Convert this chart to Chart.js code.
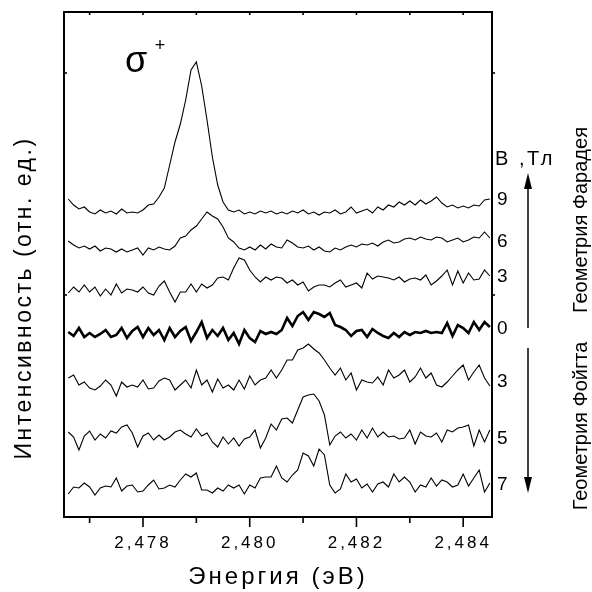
<!DOCTYPE html>
<html><head><meta charset="utf-8">
<script src="https://cdn.jsdelivr.net/npm/chart.js@4/dist/chart.umd.min.js"></script>
<style>html,body{margin:0;padding:0;background:#fff;}canvas{display:block}</style>
</head><body>
<canvas id="c" width="592" height="592"></canvas>
<script>
// Photon energy, eV
const energy = [
 2.4766,2.4767,2.4768,2.4769,2.4770,2.4771,2.4772,2.4773,2.4774,2.4775,
 2.4776,2.4777,2.4778,2.4779,2.4780,2.4781,2.4782,2.4783,2.4784,2.4785,
 2.4786,2.4787,2.4788,2.4789,2.4790,2.4791,2.4792,2.4793,2.4794,2.4795,
 2.4796,2.4797,2.4798,2.4799,2.4800,2.4801,2.4802,2.4803,2.4804,2.4805,
 2.4806,2.4807,2.4808,2.4809,2.4810,2.4811,2.4812,2.4813,2.4814,2.4815,
 2.4816,2.4817,2.4818,2.4819,2.4820,2.4821,2.4822,2.4823,2.4824,2.4825,
 2.4826,2.4827,2.4828,2.4829,2.4830,2.4831,2.4832,2.4833,2.4834,2.4835,
 2.4836,2.4837,2.4838,2.4839,2.4840,2.4841,2.4842,2.4843,2.4844,2.4845];

// Intensity (arb. units, vertically offset), one array per field
const faraday9 = [
 318,312,308,310,305,303,307,304,306,303,
 308,304,305,304,307,312,313,320,329,352,
 375,393,417,447,455,431,397,360,332,315,
 307,305,307,303,305,303,306,304,306,303,
 305,303,306,304,307,303,305,302,305,304,
 307,303,305,310,304,306,308,304,310,307,
 312,310,315,312,316,312,317,313,316,320,
 314,310,312,309,311,309,312,311,317,318];
const faraday6 = [
 276,272,269,271,268,271,266,269,268,265,
 268,265,267,269,262,269,267,270,268,267,
 271,279,281,287,291,298,305,301,298,290,
 279,275,269,267,270,267,272,268,273,270,
 269,277,274,270,269,271,267,270,266,265,
 269,267,270,272,270,273,272,274,271,275,
 277,274,275,278,279,277,280,278,277,280,
 279,275,277,279,275,277,280,279,285,279];
const faraday3 = [
 224,230,225,232,225,230,221,228,222,233,
 224,228,227,225,230,224,222,231,236,225,
 215,225,225,233,225,233,229,232,239,240,
 237,249,259,257,247,240,235,240,237,240,
 239,234,237,232,235,226,230,232,232,230,
 234,237,230,232,234,229,244,238,241,240,
 239,237,240,235,238,239,237,242,232,236,
 241,247,232,246,234,244,237,238,247,241];
const zeroField = [
 185,181,189,180,184,180,183,187,180,182,
 189,179,186,190,180,189,182,187,177,189,
 180,186,190,176,185,195,179,187,181,189,
 177,184,173,187,179,175,186,183,185,183,
 187,199,191,201,205,197,205,203,200,204,
 192,190,187,181,186,187,180,188,184,181,
 179,184,180,185,182,185,184,186,184,185,
 184,194,181,192,189,184,195,187,195,190];
const voigt3 = [
 139,142,132,135,129,127,131,137,132,121,
 135,130,132,130,137,128,129,136,139,137,
 127,132,137,129,147,132,137,125,138,129,
 132,127,137,128,141,132,137,139,147,139,
 147,157,157,167,169,173,168,164,157,149,
 142,149,137,144,127,137,135,134,140,132,
 147,139,142,147,135,140,149,139,144,132,
 130,135,141,147,152,137,145,152,139,131];
const voigt5 = [
 85,80,67,81,86,77,83,79,86,84,
 90,92,84,70,81,84,77,82,77,80,
 85,87,83,80,88,81,84,75,70,80,
 73,79,71,78,80,87,69,79,93,87,
 98,99,94,107,120,122,123,116,102,72,
 81,85,79,83,77,87,79,89,80,85,
 80,81,78,79,87,73,85,81,80,84,
 75,87,85,89,90,92,71,87,75,87];
const voigt7 = [
 23,30,29,34,30,22,29,31,30,39,
 26,31,32,25,26,32,37,28,29,32,
 30,37,43,40,44,27,27,24,29,26,
 32,29,32,23,32,29,39,40,40,51,
 39,35,42,47,64,61,51,68,62,32,
 24,28,43,35,38,29,33,25,33,35,
 30,43,35,40,35,25,32,30,39,31,
 37,35,30,32,43,31,39,47,25,34];

const fieldLabels = ['9','6','3','0','3','5','7'];
const xTickValues = [2.478, 2.480, 2.482, 2.484];
const xTickLabels = ['2,478', '2,480', '2,482', '2,484'];
const xMinorTicks = [2.477, 2.479, 2.481, 2.483];
const yTickValues = [222, 444];

const FONT = '"Liberation Sans", Arial, Helvetica, sans-serif';
const series = [faraday9, faraday6, faraday3, zeroField, voigt3, voigt5, voigt7];

const datasets = series.map((vals, si) => ({
  label: 'B = ' + fieldLabels[si] + ' Тл',
  data: vals.map((v, i) => ({x: energy[i], y: v})),
  borderColor: '#000',
  borderWidth: si === 3 ? 2.6 : 1.1,
  pointRadius: 0,
  tension: 0,
  fill: false
}));

const decor = {
  id: 'decor',
  beforeDraw(chart) { chart.ctx.letterSpacing = '3px'; },
  afterDraw(chart) {
    const {ctx, chartArea: a, scales: {x, y}} = chart;
    ctx.save();
    ctx.letterSpacing = '0px';
    ctx.strokeStyle = '#000';
    ctx.fillStyle = '#000';
    const line = (x1, y1, x2, y2) => { ctx.beginPath(); ctx.moveTo(x1, y1); ctx.lineTo(x2, y2); ctx.stroke(); };
    // frame
    ctx.lineWidth = 2;
    ctx.strokeRect(a.left, a.top, a.right - a.left, a.bottom - a.top);
    // ticks
    ctx.lineWidth = 1.6;
    xTickValues.forEach(v => { const p = x.getPixelForValue(v); line(p, a.bottom, p, a.bottom + 10); line(p, a.top, p, a.top + 3); });
    xMinorTicks.forEach(v => { const p = x.getPixelForValue(v); line(p, a.bottom, p, a.bottom + 6); line(p, a.top, p, a.top + 3); });
    yTickValues.forEach(v => { const p = y.getPixelForValue(v); line(a.left, p, a.left + 3, p); line(a.right, p, a.right + 3, p); });

    // sigma+
    ctx.textAlign = 'left'; ctx.textBaseline = 'alphabetic';
    ctx.font = '36px ' + FONT;
    ctx.fillText('σ', 125, 72);
    ctx.font = '18px ' + FONT;
    ctx.textAlign = 'center';
    ctx.fillText('+', 160, 51);

    // field labels at right
    ctx.textAlign = 'left';
    ctx.font = '19px ' + FONT;
    const ly = [205, 247, 282, 334, 387, 444, 490];
    fieldLabels.forEach((t, i) => ctx.fillText(t, 497, ly[i]));
    ctx.font = '20px ' + FONT;
    ctx.letterSpacing = '2.5px';
    ctx.fillText('B ,Тл', 495, 165);
    ctx.letterSpacing = '0px';

    // arrows
    ctx.lineWidth = 1.5;
    line(528, 186, 528, 328);
    ctx.beginPath(); ctx.moveTo(528, 173); ctx.lineTo(524, 189); ctx.lineTo(532, 189); ctx.closePath(); ctx.fill();
    line(528, 348, 528, 480);
    ctx.beginPath(); ctx.moveTo(528, 493); ctx.lineTo(524, 477); ctx.lineTo(532, 477); ctx.closePath(); ctx.fill();

    // rotated texts
    const rot = (t, cx, cy, font, ls) => {
      ctx.save(); ctx.translate(cx, cy); ctx.rotate(-Math.PI / 2);
      ctx.font = font; ctx.letterSpacing = ls; ctx.textAlign = 'center'; ctx.textBaseline = 'alphabetic';
      ctx.fillText(t, 0, 0); ctx.restore();
    };
    rot('Геометрия Фарадея', 587, 220, '20px ' + FONT, '0px');
    rot('Геометрия Фойгта', 587, 426, '20px ' + FONT, '0px');
    rot('Интенсивность (отн. ед.)', 31, 298, '23px ' + FONT, '2.5px');
    ctx.restore();
  }
};

new Chart(document.getElementById('c'), {
  type: 'line',
  data: { datasets },
  options: {
    responsive: false,
    animation: false,
    events: [],
    layout: { padding: { top: 12, left: 64, right: 100, bottom: 0 } },
    plugins: { legend: { display: false }, tooltip: { enabled: false } },
    scales: {
      x: {
        type: 'linear',
        min: 2.47652, max: 2.48454,
        afterBuildTicks: s => { s.ticks = xTickValues.map(v => ({value: v})); },
        afterFit: s => { s.height = 75; },
        ticks: {
          autoSkip: false, maxRotation: 0, padding: 16, color: '#000',
          font: { family: FONT, size: 17 },
          callback: v => { const i = xTickValues.findIndex(t => Math.abs(t - v) < 1e-7); return i >= 0 ? xTickLabels[i] : ''; }
        },
        grid: { display: false, drawTicks: false },
        border: { display: false },
        title: { display: true, text: 'Энергия (эВ)', color: '#000', font: { family: FONT, size: 24 }, padding: { top: 0, bottom: 0 } }
      },
      y: {
        type: 'linear', display: false, min: 0, max: 505
      }
    }
  },
  plugins: [decor]
});
</script>
</body></html>
